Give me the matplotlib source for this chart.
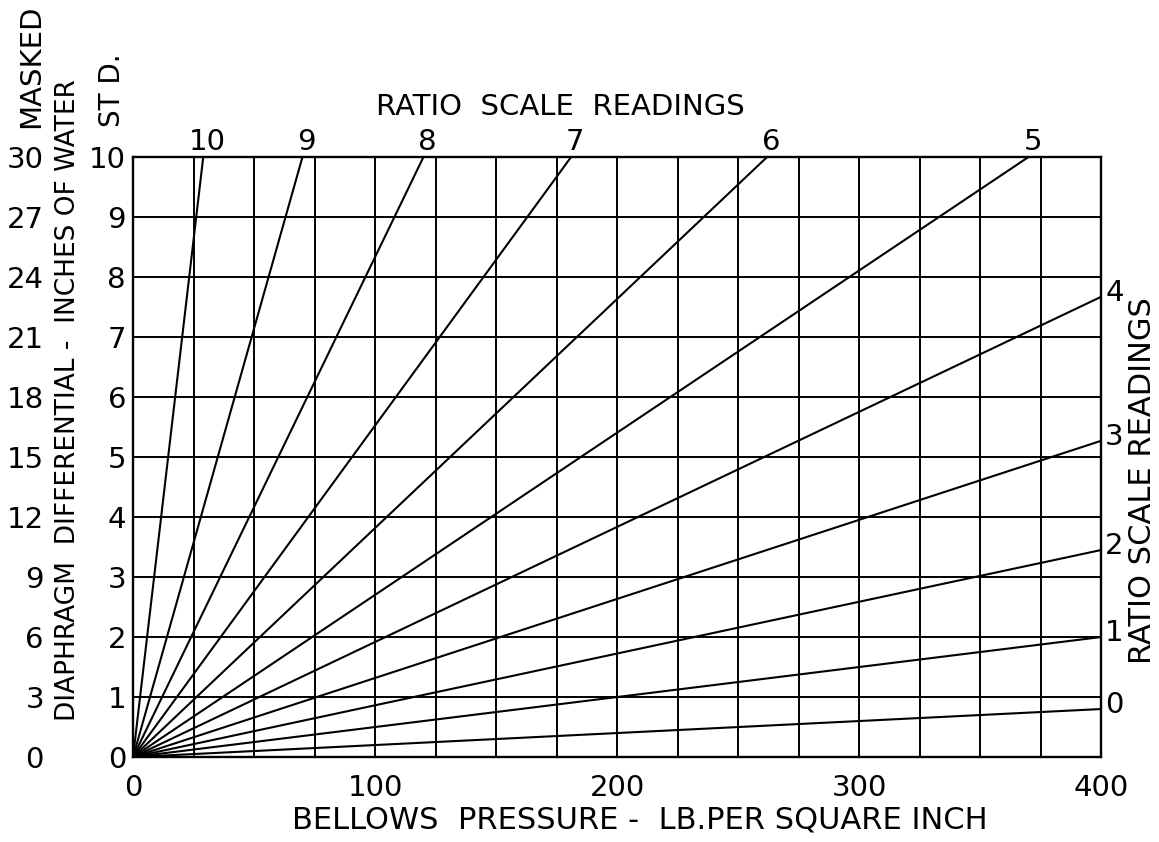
import matplotlib

matplotlib.use("Agg")
import matplotlib.pyplot as plt  # noqa: E402
import numpy as np  # noqa: E402

# ratio scale rays: each runs from the origin to the chart edge
ratio_labels = ["10", "9", "8", "7", "6", "5", "4", "3", "2", "1", "0"]
ray_end_x = [29, 70, 120, 181, 262, 370, 400, 400, 400, 400, 400]
ray_end_y = [10, 10, 10, 10, 10, 10, 7.67, 5.27, 3.45, 2.0, 0.8]

x_ticks = [0, 100, 200, 300, 400]
std_ticks = list(range(0, 11))          # ST D. scale
masked_ticks = list(range(0, 31, 3))    # MASKED scale (3x std)

plt.rcParams["font.family"] = ["DejaVu Sans"]

fig = plt.figure(figsize=(11.59, 8.42), dpi=100)
ax = fig.add_axes([0.1148, 0.1009, 0.8352, 0.7126])

ax.set_xlim(0, 400)
ax.set_ylim(0, 10)
ax.set_xticks(np.arange(0, 401, 25), minor=True)
ax.set_xticks(x_ticks)
ax.set_xticklabels([str(v) for v in x_ticks])
ax.set_yticks(std_ticks)
ax.set_yticklabels([str(v) for v in std_ticks])
ax.grid(True, which="both", color="black", linewidth=1.4)
ax.tick_params(which="both", length=0)
ax.tick_params(axis="x", labelsize=21, pad=12)
ax.tick_params(axis="y", labelsize=21, pad=5)
for s in ax.spines.values():
    s.set_linewidth(1.7)

for lab, ex, ey in zip(ratio_labels, ray_end_x, ray_end_y):
    ax.plot([0, ex], [0, ey], color="black", linewidth=1.5, solid_capstyle="butt")
    if ey >= 10:
        ax.annotate(lab, (ex, ey), xytext=(3, 1), textcoords="offset points",
                    ha="center", va="bottom", fontsize=21)
    else:
        ax.annotate(lab, (ex, ey), xytext=(3, 3), textcoords="offset points",
                    ha="left", va="center", fontsize=21)

# outer masked scale on the left
sec = ax.secondary_yaxis(-0.092, functions=(lambda y: 3 * y, lambda y: y / 3))
sec.set_yticks(masked_ticks)
sec.set_yticklabels([str(v) for v in masked_ticks])
sec.tick_params(length=0, labelsize=21, pad=0)
sec.spines["left"].set_visible(False)

ax.set_xlabel("BELLOWS  PRESSURE -  LB.PER SQUARE INCH", fontsize=22, x=0.524, labelpad=3)
ax.text(0.441, 1.083, "RATIO  SCALE  READINGS", transform=ax.transAxes,
        ha="center", va="center", fontsize=21)
ax.text(1.043, 0.46, "RATIO SCALE READINGS", transform=ax.transAxes, rotation=90,
        ha="center", va="center", fontsize=22)
fig.text(68 / 1159, 1 - 400 / 842, "DIAPHRAGM  DIFFERENTIAL -  INCHES OF WATER", rotation=90,
         ha="center", va="center", fontsize=19)
fig.text(112 / 1159, 1 - 90 / 842, "ST D.", rotation=90, ha="center", va="center", fontsize=20)
fig.text(31 / 1159, 1 - 66 / 842, "MASKED", rotation=90, ha="center", va="center", fontsize=21)

fig.savefig("out.png", dpi=100)
plt.close(fig)
